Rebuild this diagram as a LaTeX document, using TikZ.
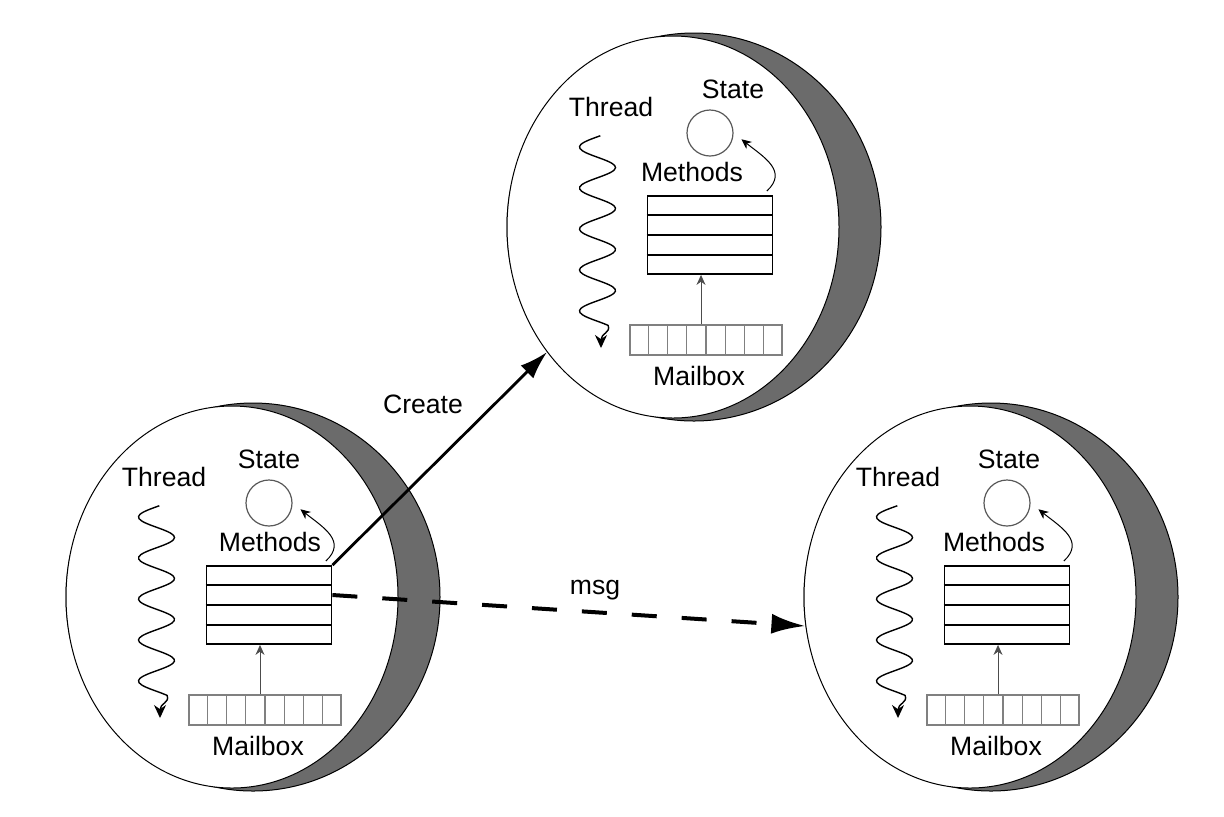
\documentclass[tikz,border=0pt]{standalone}
\usepackage{fontspec}
\setmainfont{Liberation Sans}
\usepackage{tikz}
\usetikzlibrary{shapes.geometric,arrows.meta,positioning,calc}

\tikzset{
    lbl/.style={font=\fontsize{13.3}{16}\selectfont, inner sep=0pt},
    face/.style={ellipse, draw, line width=0.5pt, fill=white, minimum width=166pt, minimum height=191pt, inner sep=0pt},
    rim/.style={face, fill=black!58, minimum width=187pt, minimum height=194pt},
    methodbox/.style={draw, line width=0.9pt, minimum width=62.5pt, minimum height=39pt, inner sep=0pt},
    mailbox/.style={draw=black!50, line width=0.6pt, minimum width=76pt, minimum height=15pt, inner sep=0pt},
    statecirc/.style={circle, draw=black!65, line width=0.6pt, minimum size=23pt, inner sep=0pt},
    smallarr/.style={-{Stealth[length=5pt,width=4.5pt]}, line width=0.5pt},
}

\begin{document}
\begin{tikzpicture}[x=0.5pt, y=-0.5pt]
    \useasboundingbox (0,0) rectangle (1224,816);

    % Actors: name / centre / label shifts (Thread, State, Methods)
    \foreach \n/\cx/\cy/\tx/\sx/\mx in {top/673/227/-62/60/19, left/232/597/-68/37/38, right/970/597/-72/39/24} {
        % body: dark rim behind, white face in front
        \node[rim] (\n-rim) at (\cx+21,\cy) {};
        \node[face] (\n-face) at (\cx,\cy) {};

        % Methods (four rows)
        \node[methodbox] (\n-box) at (\cx+37,\cy+8) {};
        \foreach \i in {1,2,3}
            \draw[line width=0.9pt] ($(\n-box.north west)!\i/4!(\n-box.south west)$) -- ($(\n-box.north east)!\i/4!(\n-box.south east)$);
        \node[lbl] (\n-mlbl) at (\cx+\mx,\cy-55) {Methods};

        % State
        \node[statecirc] (\n-state) at (\cx+37,\cy-94) {};
        \node[lbl] (\n-slbl) at (\cx+\sx,\cy-138) {State};
        \draw[smallarr, shorten <=3pt, shorten >=5pt] ([xshift=-5.5pt]\n-box.north east) .. controls +(26,-24) and +(30,24) .. (\n-state.east);

        % Mailbox (eight cells)
        \node[mailbox] (\n-mail) at (\cx+33,\cy+113) {};
        \foreach \i in {1,...,7}
            \draw[black!50, line width=0.6pt] ($(\n-mail.north west)!\i/8!(\n-mail.north east)$) -- ($(\n-mail.south west)!\i/8!(\n-mail.south east)$);
        \node[lbl] (\n-xlbl) at (\cx+26,\cy+149) {Mailbox};
        \draw[smallarr, black!70] ([xshift=-2.5pt]\n-mail.north) -- ([xshift=-2.5pt]\n-mail.north |- \n-box.south);

        % Thread
        \node[lbl] (\n-tlbl) at (\cx+\tx,\cy-120) {Thread};
        \draw[line width=0.7pt, -{Stealth[length=6.5pt,width=6pt]}]
            plot[domain=-0.55*pi:8.7*pi, samples=90, smooth, variable=\t] ({\cx-75.5-18*cos(\t r)}, {\cy-80+41*\t/(2*pi)})
            .. controls (\cx-62,\cy+106) and (\cx-72,\cy+106) .. (\cx-72,\cy+121);
    }

    % Create and msg
    \draw[line width=1.4pt, -{Latex[length=14pt,width=9pt]}] (left-box.north east) -- (top-face);
    \node[lbl] (create-lbl) at (423,404) {Create};
    \draw[line width=2pt, dash pattern=on 12.5pt off 12.5pt, -{Latex[length=17pt,width=10pt]}] ([yshift=5pt]left-box.east) -- (right-face.190);
    \node[lbl] (msg-lbl) at (595,590) {msg};
\end{tikzpicture}
\end{document}
